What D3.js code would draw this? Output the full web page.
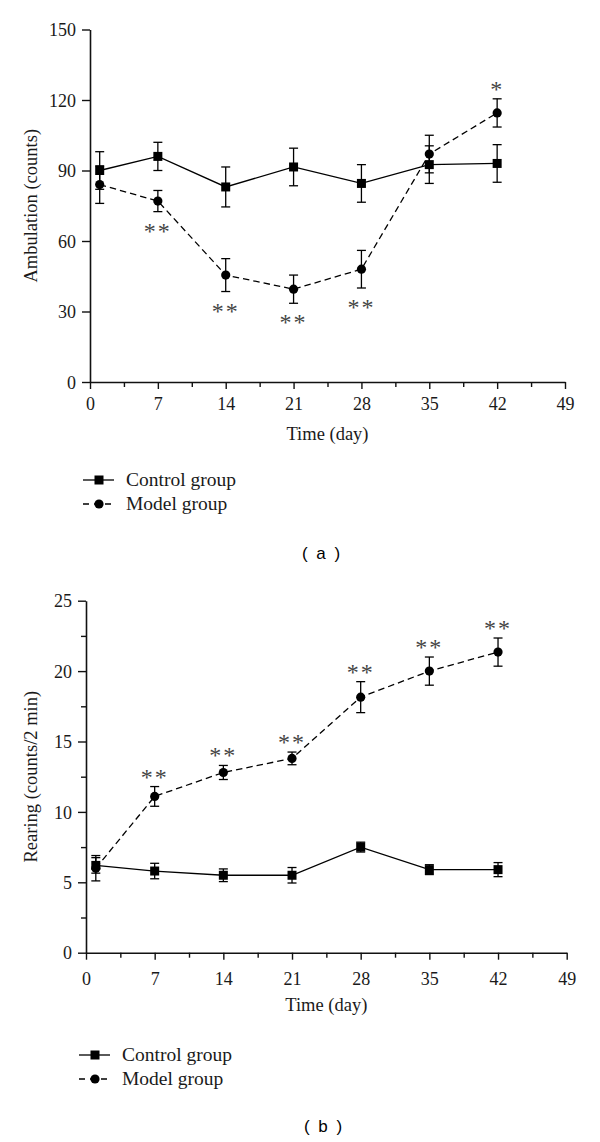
<!DOCTYPE html>
<html>
<head>
<meta charset="utf-8">
<script src="https://cdn.jsdelivr.net/npm/d3@7"></script>
<style>
  body { margin: 0; background: #fff; }
  svg { display: block; }
</style>
</head>
<body>
<div class="d3-container"></div>
<script>
// data
const days = [1, 7, 14, 21, 28, 35, 42];

const ambControl = [90, 96, 83, 91.5, 84.5, 92.5, 93];
const ambControlErr = [8, 6, 8.5, 8, 8, 8, 8];
const ambModel = [84, 77, 45.5, 39.5, 48, 97, 114.5];
const ambModelErr = [8, 4.5, 7, 6, 8, 8, 6];
const ambSig = ["", "**", "**", "**", "**", "", "*"];
const ambSigSide = [0, -1, -1, -1, -1, 0, 1];   // 1 above, -1 below

const rearControl = [6.2, 5.8, 5.5, 5.5, 7.5, 5.9, 5.9];
const rearControlErr = [0.55, 0.55, 0.45, 0.55, 0.35, 0.35, 0.5];
const rearModel = [6.0, 11.1, 12.8, 13.8, 18.15, 20.0, 21.35];
const rearModelErr = [0.9, 0.7, 0.5, 0.45, 1.1, 1.0, 1.0];
const rearSig = ["", "**", "**", "**", "**", "**", "**"];
const rearSigSide = [0, 1, 1, 1, 1, 1, 1];

const xTicks = d3.range(0, 49.01, 3.5);
const ambTicks = [0, 30, 60, 90, 120, 150];
const rearTicks = d3.range(0, 25.01, 2.5);

const seriesNames = ["Control group", "Model group"];

const width = 600;
const height = 1142;
const serif = "'Liberation Serif', 'Times New Roman', serif";

const svg = d3.select(".d3-container")
  .append("svg")
  .attr("width", width)
  .attr("height", height);

function panel(opt) {
  const x = d3.scaleLinear().domain([0, 49]).range([opt.left, opt.right]);
  const y = d3.scaleLinear().domain(opt.yDomain).range([opt.bottom, opt.top]);
  const g = svg.append("g");

  // x axis
  const xa = g.append("g")
    .attr("transform", `translate(0,${opt.bottom})`)
    .call(d3.axisBottom(x).tickValues(xTicks).tickSizeOuter(0)
      .tickFormat(d => d % 7 === 0 ? d : ""));
  xa.selectAll(".tick line").attr("y2", d => d % 7 === 0 ? 7 : 5);
  xa.selectAll(".tick text").attr("y", opt.xLabelDy).attr("dy", 0);

  // y axis
  const ya = g.append("g")
    .attr("transform", `translate(${opt.left},0)`)
    .call(d3.axisLeft(y).tickValues(opt.yTicks).tickSizeOuter(0)
      .tickFormat(d => opt.yLabels.includes(d) ? d : ""));
  ya.selectAll(".tick line").attr("x2", d => opt.yLabels.includes(d) ? -8 : -5);
  ya.selectAll(".tick text").attr("x", -14).attr("dy", "0.34em");

  g.selectAll(".domain").attr("stroke", "#111").attr("stroke-width", 1.6);
  g.selectAll(".tick line").attr("stroke", "#111").attr("stroke-width", 1.4);
  g.selectAll(".tick text")
    .style("font-family", serif)
    .style("font-size", "18px")
    .attr("fill", "#1a1a1a");

  // titles
  g.append("text")
    .attr("x", (opt.left + opt.right) / 2)
    .attr("y", opt.bottom + 58)
    .attr("text-anchor", "middle")
    .style("font-family", serif).style("font-size", "18.5px").attr("fill", "#1a1a1a")
    .text("Time (day)");

  g.append("text")
    .attr("transform", `translate(37,${(opt.top + opt.bottom) / 2}) rotate(-90)`)
    .attr("text-anchor", "middle")
    .style("font-family", serif).style("font-size", "18.5px").attr("fill", "#1a1a1a")
    .text(opt.yTitle);

  const line = d3.line().x(d => x(d.day)).y(d => y(d.v));

  function drawSeries(vals, errs, dashed, marker) {
    const pts = days.map((d, i) => ({day: d, v: vals[i], e: errs[i]}));
    g.append("path")
      .datum(pts)
      .attr("fill", "none")
      .attr("stroke", "#000")
      .attr("stroke-width", 1.3)
      .attr("stroke-dasharray", dashed ? "6.5,4" : null)
      .attr("d", line);

    const eb = g.append("g").attr("stroke", "#000").attr("stroke-width", 1.3);
    eb.selectAll(".bar").data(pts).join("line")
      .attr("x1", d => x(d.day)).attr("x2", d => x(d.day))
      .attr("y1", d => y(d.v - d.e)).attr("y2", d => y(d.v + d.e));
    eb.selectAll(".capt").data(pts).join("line")
      .attr("x1", d => x(d.day) - 4.5).attr("x2", d => x(d.day) + 4.5)
      .attr("y1", d => y(d.v + d.e)).attr("y2", d => y(d.v + d.e));
    eb.selectAll(".capb").data(pts).join("line")
      .attr("x1", d => x(d.day) - 4.5).attr("x2", d => x(d.day) + 4.5)
      .attr("y1", d => y(d.v - d.e)).attr("y2", d => y(d.v - d.e));

    if (marker === "square") {
      g.selectAll(null).data(pts).join("rect")
        .attr("x", d => x(d.day) - 4.5).attr("y", d => y(d.v) - 4.5)
        .attr("width", 9).attr("height", 9).attr("fill", "#000");
    } else {
      g.selectAll(null).data(pts).join("circle")
        .attr("cx", d => x(d.day)).attr("cy", d => y(d.v))
        .attr("r", 4.6).attr("fill", "#000");
    }
    return pts;
  }

  const mp = drawSeries(opt.model, opt.modelErr, true, "circle");
  drawSeries(opt.control, opt.controlErr, false, "square");

  // significance marks
  g.selectAll(null).data(mp.map((p, i) => ({...p, s: opt.sig[i], side: opt.sigSide[i]})).filter(d => d.s))
    .join("text")
    .attr("x", d => x(d.day))
    .attr("y", d => (d.side > 0 ? y(d.v + d.e) - 14 : y(d.v - d.e) + 15) + 12)
    .attr("text-anchor", "middle")
    .style("font-family", serif)
    .style("font-size", "24px")
    .attr("letter-spacing", 2)
    .attr("fill", "#444")
    .text(d => d.s);

  // legend
  const lg = g.append("g");
  seriesNames.forEach((name, i) => {
    const ly = opt.legendY + i * 24;
    lg.append("line")
      .attr("x1", opt.legendX).attr("x2", opt.legendX + 31)
      .attr("y1", ly).attr("y2", ly)
      .attr("stroke", "#000").attr("stroke-width", 1.3)
      .attr("stroke-dasharray", i === 1 ? "6,5" : null);
    if (i === 0) {
      lg.append("rect").attr("x", opt.legendX + 16 - 4.5).attr("y", ly - 4.5)
        .attr("width", 9).attr("height", 9).attr("fill", "#000");
    } else {
      lg.append("circle").attr("cx", opt.legendX + 16).attr("cy", ly)
        .attr("r", 4.6).attr("fill", "#000");
    }
    lg.append("text")
      .attr("x", opt.legendX + 43).attr("y", ly + 6)
      .style("font-family", serif).style("font-size", "19.5px").attr("fill", "#1a1a1a")
      .text(name);
  });

  svg.append("text")
    .attr("x", opt.tagX).attr("y", opt.tagY)
    .attr("text-anchor", "middle")
    .style("font-family", "'Liberation Sans', Arial, sans-serif")
    .style("font-size", "17px").attr("fill", "#000")
    .attr("letter-spacing", 2)
    .attr("xml:space", "preserve")
    .text(opt.tag);
}

panel({
  left: 90, right: 565, top: 29.5, bottom: 382,
  yDomain: [0, 150], yTicks: ambTicks, yLabels: ambTicks,
  xLabelDy: 28,
  yTitle: "Ambulation (counts)",
  control: ambControl, controlErr: ambControlErr,
  model: ambModel, modelErr: ambModelErr,
  sig: ambSig, sigSide: ambSigSide,
  legendX: 83, legendY: 480,
  tag: "( a )", tagX: 322, tagY: 559
});

panel({
  left: 86, right: 566.7, top: 600.7, bottom: 952.7,
  yDomain: [0, 25], yTicks: rearTicks, yLabels: [0, 5, 10, 15, 20, 25],
  xLabelDy: 32,
  yTitle: "Rearing (counts/2 min)",
  control: rearControl, controlErr: rearControlErr,
  model: rearModel, modelErr: rearModelErr,
  sig: rearSig, sigSide: rearSigSide,
  legendX: 79, legendY: 1055,
  tag: "( b )", tagX: 324, tagY: 1132
});
</script>
</body>
</html>
